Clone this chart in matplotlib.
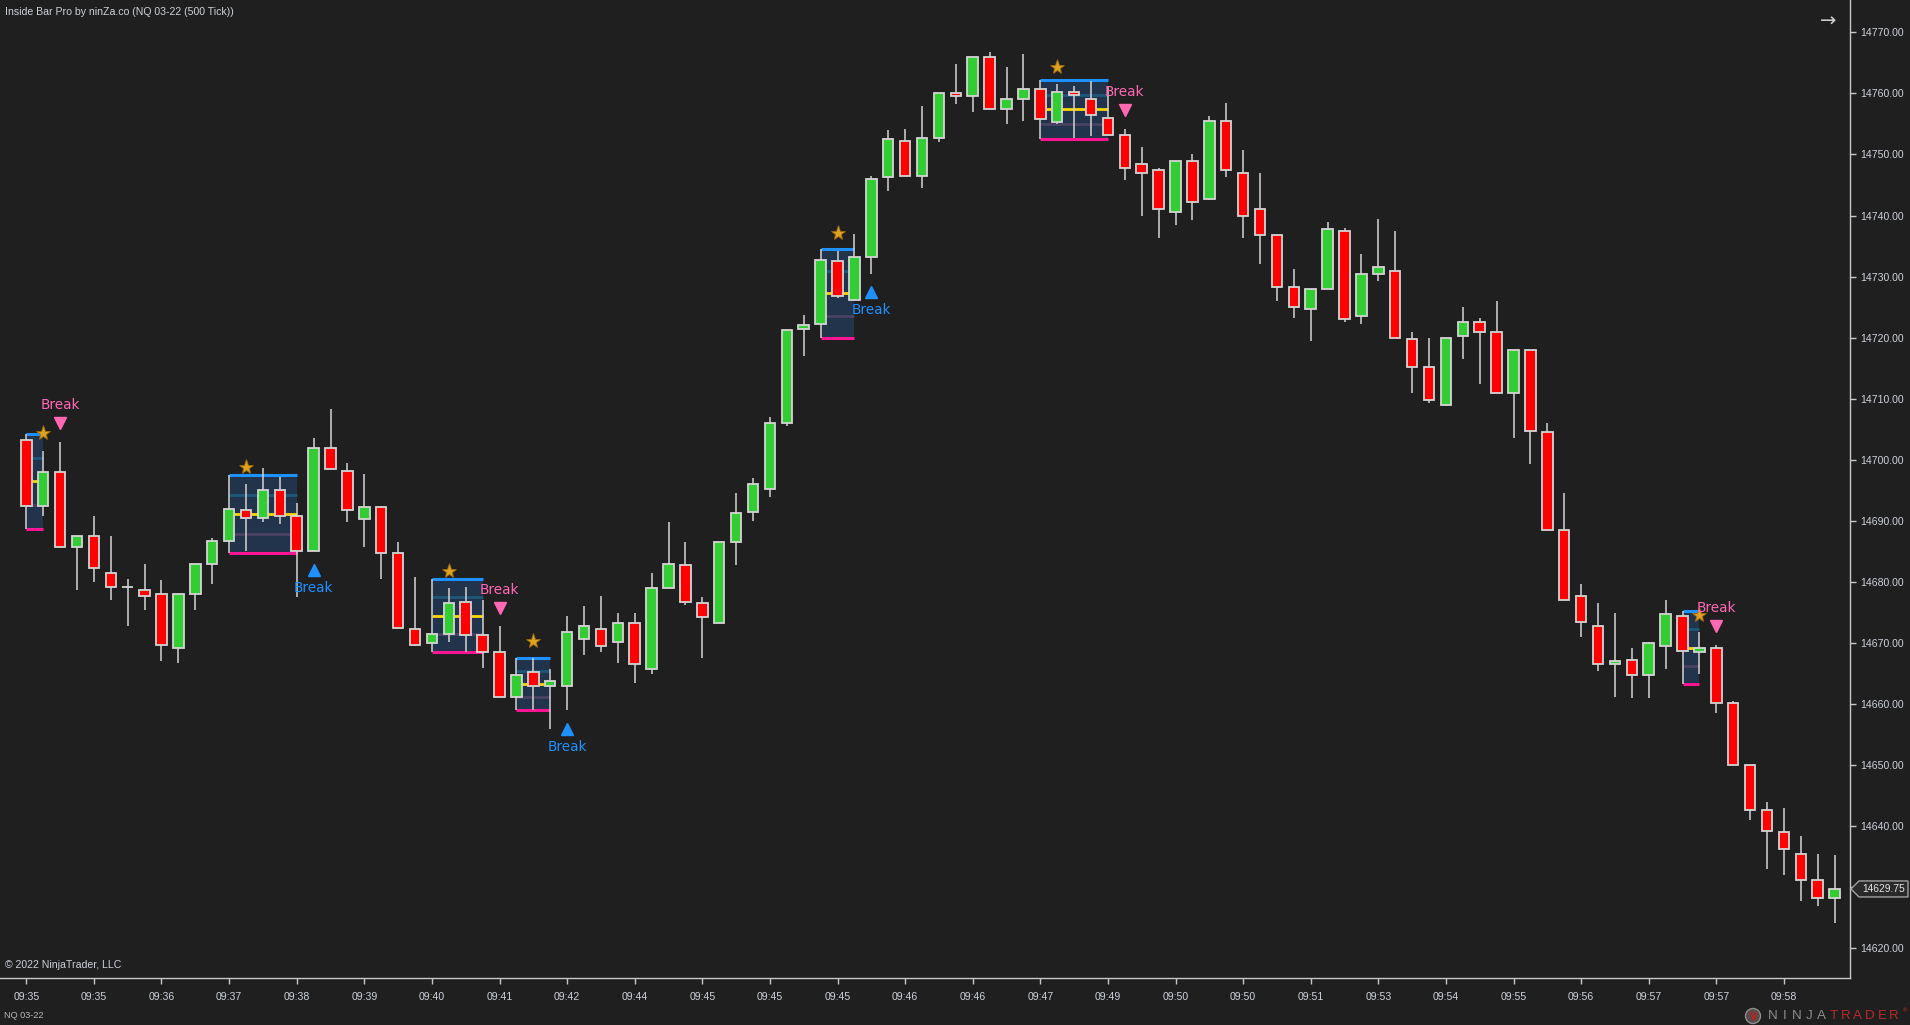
import matplotlib
matplotlib.use("Agg")
import matplotlib.pyplot as plt
from matplotlib.transforms import offset_copy, IdentityTransform
from matplotlib.patches import Rectangle, Polygon

# NQ 03-22, 500 tick bars
opens = [14703.25, 14692.5, 14698.0, 14685.75, 14687.5, 14681.5, 14679.25, 14678.75, 14678.0, 14669.25,
         14678.0, 14683.0, 14686.75, 14691.75, 14690.5, 14695.0, 14690.75, 14685.0, 14702.0, 14698.25,
         14690.25, 14692.25, 14684.75, 14672.25, 14670.0, 14671.5, 14676.75, 14671.25, 14668.5, 14661.25,
         14665.25, 14663.0, 14663.0, 14670.75, 14672.25, 14670.25, 14673.25, 14665.75, 14679.0, 14682.75,
         14676.5, 14673.25, 14686.5, 14691.5, 14695.25, 14706.0, 14721.5, 14722.25, 14732.5, 14726.25,
         14733.25, 14746.25, 14752.25, 14746.5, 14752.75, 14760.0, 14759.5, 14766.0, 14757.5, 14759.0,
         14760.75, 14755.25, 14760.25, 14759.0, 14756.0, 14753.25, 14748.5, 14747.5, 14740.5, 14749.0,
         14742.75, 14755.5, 14747.0, 14741.0, 14736.75, 14728.25, 14724.75, 14728.0, 14737.5, 14723.5,
         14730.5, 14731.0, 14719.75, 14715.25, 14709.0, 14720.25, 14722.5, 14721.0, 14711.0, 14718.0,
         14704.5, 14688.5, 14677.75, 14672.75, 14666.5, 14667.25, 14664.75, 14669.5, 14674.5, 14668.5,
         14669.25, 14660.25, 14650.0, 14642.75, 14639.0, 14635.5, 14631.25, 14628.25]
highs = [14704.25, 14701.5, 14703.0, 14687.5, 14690.75, 14687.5, 14680.5, 14683.0, 14680.25, 14678.0,
         14683.0, 14687.25, 14697.5, 14696.0, 14698.75, 14697.25, 14693.0, 14703.5, 14708.25, 14699.5,
         14697.75, 14692.5, 14686.5, 14680.75, 14680.5, 14679.0, 14679.25, 14677.0, 14672.75, 14667.5,
         14667.5, 14665.75, 14674.5, 14676.0, 14677.75, 14675.0, 14675.0, 14681.5, 14689.75, 14686.5,
         14677.5, 14686.5, 14694.5, 14697.0, 14707.0, 14721.25, 14723.75, 14734.5, 14734.25, 14737.0,
         14746.5, 14754.0, 14754.25, 14758.0, 14760.0, 14764.75, 14766.0, 14766.75, 14764.25, 14766.5,
         14762.25, 14761.5, 14761.25, 14762.0, 14761.25, 14754.25, 14751.25, 14747.75, 14749.0, 14750.0,
         14756.25, 14758.5, 14750.75, 14747.0, 14736.75, 14731.25, 14728.0, 14739.0, 14738.0, 14733.75,
         14739.5, 14737.5, 14721.0, 14720.0, 14720.0, 14725.0, 14723.25, 14726.0, 14718.0, 14718.0,
         14706.0, 14694.5, 14679.75, 14676.5, 14675.0, 14669.25, 14670.25, 14677.0, 14675.25, 14671.75,
         14669.75, 14660.5, 14650.0, 14644.0, 14643.0, 14638.5, 14635.5, 14635.25]
lows = [14688.75, 14690.75, 14685.75, 14678.75, 14680.0, 14677.0, 14672.75, 14675.5, 14667.0, 14666.75,
        14675.5, 14679.75, 14684.75, 14685.0, 14689.75, 14689.5, 14677.5, 14685.0, 14698.5, 14689.75,
        14685.75, 14680.5, 14672.25, 14669.5, 14668.5, 14670.25, 14668.5, 14666.0, 14661.25, 14659.0,
        14659.0, 14656.0, 14659.0, 14668.0, 14668.5, 14666.75, 14663.5, 14665.0, 14679.0, 14676.25,
        14667.5, 14673.25, 14682.75, 14690.0, 14694.0, 14705.5, 14717.0, 14720.0, 14726.5, 14726.0,
        14730.5, 14744.0, 14746.5, 14744.5, 14752.0, 14758.25, 14757.0, 14757.5, 14755.0, 14755.5,
        14752.5, 14755.0, 14752.75, 14753.0, 14753.25, 14745.75, 14740.0, 14736.25, 14738.5, 14739.25,
        14742.5, 14746.25, 14736.25, 14732.0, 14726.0, 14723.25, 14719.5, 14728.0, 14722.5, 14722.25,
        14729.25, 14720.0, 14711.0, 14709.25, 14708.75, 14716.5, 14712.5, 14711.0, 14703.5, 14699.25,
        14688.5, 14677.0, 14671.0, 14665.5, 14661.25, 14661.0, 14661.0, 14665.75, 14663.25, 14665.0,
        14658.5, 14650.0, 14641.0, 14633.0, 14632.0, 14627.75, 14627.0, 14624.25]
closes = [14692.5, 14698.0, 14685.75, 14687.5, 14682.25, 14679.25, 14679.25, 14677.75, 14669.75, 14678.0,
          14683.0, 14686.75, 14692.0, 14690.5, 14695.0, 14690.75, 14685.0, 14702.0, 14698.5, 14691.75,
          14692.25, 14684.75, 14672.5, 14669.75, 14671.5, 14676.5, 14671.25, 14668.5, 14661.25, 14664.75,
          14663.0, 14663.75, 14671.75, 14672.75, 14669.5, 14673.25, 14666.5, 14679.0, 14683.0, 14676.75,
          14674.25, 14686.5, 14691.25, 14696.0, 14706.0, 14721.25, 14722.0, 14732.75, 14726.75, 14733.25,
          14746.0, 14752.5, 14746.5, 14752.75, 14760.0, 14759.5, 14766.0, 14757.5, 14759.0, 14760.75,
          14755.75, 14760.25, 14759.75, 14756.5, 14753.25, 14747.75, 14747.0, 14741.0, 14749.0, 14742.25,
          14755.5, 14747.5, 14740.0, 14736.75, 14728.25, 14725.0, 14728.0, 14737.75, 14723.0, 14730.5,
          14731.5, 14720.0, 14715.25, 14709.75, 14720.0, 14722.5, 14721.0, 14711.0, 14718.0, 14704.75,
          14688.5, 14677.0, 14673.5, 14666.5, 14667.0, 14664.75, 14670.0, 14674.75, 14668.75, 14669.25,
          14660.25, 14650.0, 14642.75, 14639.25, 14636.25, 14631.25, 14628.25, 14629.75]

time_labels = ["09:35", "09:35", "09:36", "09:37", "09:38", "09:39", "09:40", "09:41", "09:42",
               "09:44", "09:45", "09:45", "09:45", "09:46", "09:46", "09:47", "09:49", "09:50",
               "09:50", "09:51", "09:53", "09:54", "09:55", "09:56", "09:57", "09:57", "09:58"]

# inside bar setups: (mother bar, last inside bar, break bar, break direction)
setups = [(0, 1, 2, "down"), (12, 16, 17, "up"), (24, 27, 28, "down"), (29, 31, 32, "up"),
          (47, 49, 50, "up"), (60, 64, 65, "down"), (98, 99, 100, "down")]

price_ticks = list(range(14620, 14771, 10))

BG = "#1f1f1f"
UP = "#32cd32"
DOWN = "#ff0000"
OUTLINE = "#d4d4d4"
TXT = "#cdd2da"
UI_FONT = ["Liberation Sans", "DejaVu Sans"]

W, H = 1910, 1025
fig = plt.figure(figsize=(W / 100, H / 100), dpi=100, facecolor=BG)
ax = fig.add_axes([0, 1 - 978 / H, 1850 / W, 978 / H], facecolor=BG)

n = len(closes)
xs = list(range(n))

# setup boxes
for m, last, brk, direction in setups:
    hi, lo = highs[m], lows[m]
    rng = hi - lo
    ax.add_patch(Rectangle((m, lo), last - m, rng, facecolor="#21344b", edgecolor="none", zorder=1))
    ax.plot([m, last], [lo + rng * 0.75] * 2, color="#1d5878", lw=2, zorder=1.5, solid_capstyle="butt")
    ax.plot([m, last], [lo + rng * 0.5] * 2, color="#ffd700", lw=2, zorder=1.5, solid_capstyle="butt")
    ax.plot([m, last], [lo + rng * 0.25] * 2, color="#4a4262", lw=2, zorder=1.5, solid_capstyle="butt")
    ax.plot([m, last], [hi, hi], color="#1e90ff", lw=2.2, zorder=1.6, solid_capstyle="butt")
    ax.plot([m, last], [lo, lo], color="#ff1493", lw=2.2, zorder=1.6, solid_capstyle="butt")

# candles
ax.vlines(xs, lows, highs, color=OUTLINE, lw=1.1, zorder=2)
for i in xs:
    o, c = opens[i], closes[i]
    if c > o:
        col = UP
    elif c < o:
        col = DOWN
    else:
        col = OUTLINE
    ax.bar(i, abs(c - o), bottom=min(o, c), width=0.62, color=col,
           edgecolor=OUTLINE, linewidth=1.3, zorder=3)

# stars over first inside bar, break signals
star_tr = offset_copy(ax.transData, fig=fig, y=17.5, units="dots")
for m, last, brk, direction in setups:
    ax.plot(m + 1, highs[m + 1], marker="*", ms=11, color="#e0a020", mec="#9a6a10", mew=0.6,
            transform=star_tr, zorder=5)
    if direction == "down":
        col = "#ff69b4"
        tri = offset_copy(ax.transData, fig=fig, y=18.5, units="dots")
        txt = offset_copy(ax.transData, fig=fig, y=36.5, units="dots")
        ax.plot(brk, highs[brk], marker="v", ms=8, color=col, mec=col, transform=tri, zorder=5)
        ax.text(brk, highs[brk], "Break", color=col, fontsize=9.8, ha="center", va="center",
                transform=txt, zorder=5)
    else:
        col = "#1e90ff"
        tri = offset_copy(ax.transData, fig=fig, y=-18.5, units="dots")
        txt = offset_copy(ax.transData, fig=fig, y=-36.5, units="dots")
        ax.plot(brk, lows[brk], marker="^", ms=8, color=col, mec=col, transform=tri, zorder=5)
        ax.text(brk, lows[brk], "Break", color=col, fontsize=9.8, ha="center", va="center",
                transform=txt, zorder=5)

ax.set_xlim(-1.556, 107.91)
ax.set_ylim(14615.17, 14775.29)

for s in ["top", "left"]:
    ax.spines[s].set_visible(False)
for s in ["right", "bottom"]:
    ax.spines[s].set_color("#c8c8c8")
    ax.spines[s].set_linewidth(1)

ax.yaxis.tick_right()
ax.set_yticks(price_ticks)
ax.set_yticklabels([f"{p:.2f}" for p in price_ticks], family=UI_FONT)
ax.set_xticks(xs[::4])
ax.set_xticklabels(time_labels, family=UI_FONT)
ax.tick_params(axis="both", colors="#c8c8c8", labelcolor=TXT, labelsize=7.6, length=4, width=1)
ax.tick_params(axis="x", pad=6)
ax.tick_params(axis="y", pad=3)

# last price marker
fig.canvas.draw()
py = ax.transData.transform((0, closes[-1]))[1]
x0 = 1850
pts = [(x0 + 1, py), (x0 + 9, py + 8), (x0 + 58, py + 8), (x0 + 58, py - 8), (x0 + 9, py - 8)]
fig.patches.append(Polygon(pts, closed=True, facecolor="#2a2a2a", edgecolor="#a0a0a0", lw=1,
                           transform=IdentityTransform(), figure=fig))
fig.text((x0 + 34) / W, py / H, f"{closes[-1]:.2f}", color="#e6e6e6", fontsize=7.4,
         family=UI_FONT, ha="center", va="center")

# chart texts
fig.text(5 / W, 1 - 12 / H, "Inside Bar Pro by ninZa.co (NQ 03-22 (500 Tick))", color=TXT,
         fontsize=7.6, family=UI_FONT, va="center")
fig.text(5 / W, 1 - 965 / H, "\u00a9 2022 NinjaTrader, LLC", color=TXT, fontsize=7.6,
         family=UI_FONT, va="center")
fig.text(4 / W, 1 - 1015 / H, "NQ 03-22", color="#b8b8b8", fontsize=6.6, family=UI_FONT, va="center")
fig.text(1828 / W, 1 - 21 / H, "\u2192", color="#d0d0d0", fontsize=14, ha="center", va="center")

# NinjaTrader logo
for k, ch in enumerate("NINJATRADER"):
    fig.text((1773 + 12.1 * k) / W, 1 - 1016 / H, ch, color="#8c8c8c" if k < 5 else "#b82a2a",
             fontsize=9.6, family=UI_FONT, ha="center", va="center")
fig.text(1904 / W, 1 - 1011 / H, "\u00ae", color="#b82a2a", fontsize=4.5, ha="center", va="center")
fig.patches.append(plt.Circle((1753, H - 1016), 7.5, facecolor="#5a4a4a", edgecolor="#8c8c8c",
                              lw=1, transform=IdentityTransform(), figure=fig))
fig.text(1754 / W, 1 - 1017 / H, "V", color="#c02020", fontsize=7, weight="bold",
         ha="center", va="center")

fig.savefig("out.png", dpi=100, facecolor=BG)
